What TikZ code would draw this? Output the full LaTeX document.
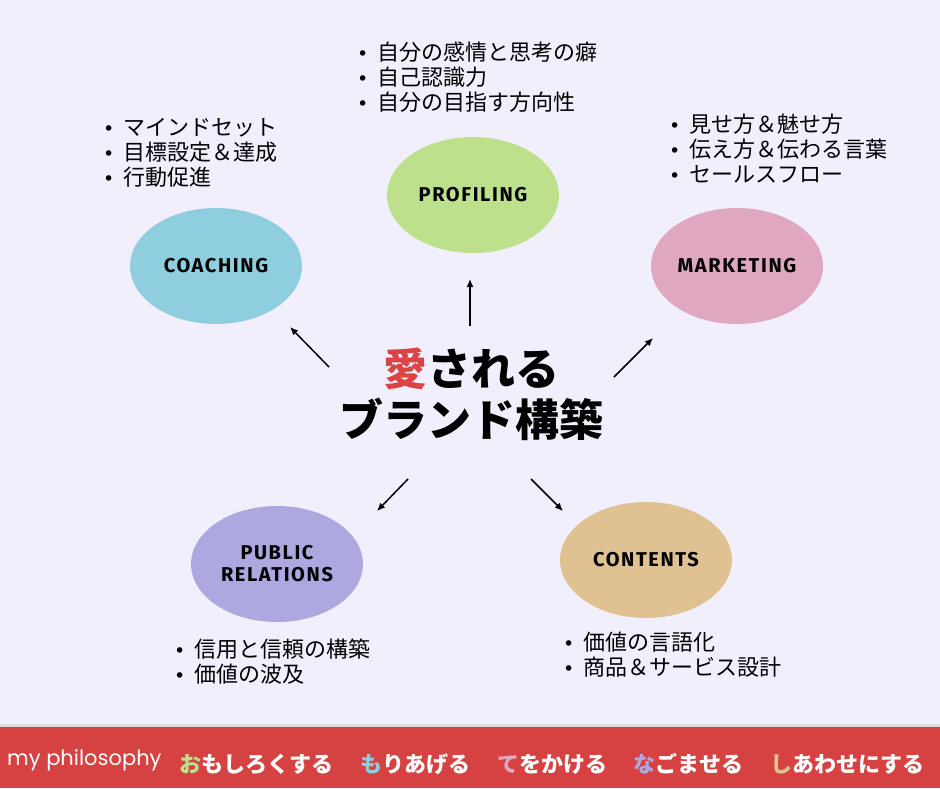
\documentclass[tikz,border=0pt]{standalone}
\usepackage{fontspec}
\usepackage{xcolor}
\usetikzlibrary{positioning,arrows.meta,shapes.geometric}

\newfontfamily\jp{Noto Sans CJK JP}
\newfontfamily\jpheavy{Noto Sans CJK JP}[UprightFont={* Black}]
\newfontfamily\hand{Fira Sans}[LetterSpace=8]
\newfontfamily\myph{Poppins}
\newfontfamily\dotfont{DejaVu Sans}

\definecolor{bgcol}{HTML}{F1EFFC}
\definecolor{barred}{HTML}{D64242}
\definecolor{coachcol}{HTML}{8FCEDF}
\definecolor{profcol}{HTML}{BDE08D}
\definecolor{mktcol}{HTML}{DFA7C0}
\definecolor{prcol}{HTML}{ADA8E0}
\definecolor{contcol}{HTML}{E0C192}
\definecolor{lovered}{HTML}{DB4444}

\newcommand\bul{\makebox[20pt][l]{\dotfont\fontsize{19}{19}\selectfont •}}

\begin{document}
\begin{tikzpicture}[
    x=1pt, y=-1pt,
    >={Latex[length=8pt,width=7pt]},
    bubble/.style={ellipse, minimum width=172pt, minimum height=116pt, inner sep=0pt,
                   align=center, font=\hand\bfseries\fontsize{20}{22}\selectfont},
    bullets/.style={anchor=base west, inner sep=0pt, align=left,
                    font=\jp\fontsize{22}{25}\selectfont},
    motto/.style={inner sep=0pt, text=white, font=\jp\bfseries\fontsize{22}{22}\selectfont},
    ray/.style={->, line width=1.5pt},
  ]
    \useasboundingbox (0,0) rectangle (940,788);
    \fill[bgcol] (0,0) rectangle (940,788);

    % 中央のタイトル
    \node[font=\jpheavy\fontsize{44}{51}\selectfont, align=center, inner sep=0pt] (title) at (471,394)
      {\textcolor{lovered}{愛}される\\ブランド構築};

    \node[bubble, fill=coachcol] (coach) at (216,266) {COACHING};
    \node[bubble, fill=profcol]  (prof)  at (473,195) {PROFILING};
    \node[bubble, fill=mktcol]   (mkt)   at (737,266) {MARKETING};
    \node[bubble, fill=prcol]    (pr)    at (277,564) {PUBLIC\\RELATIONS};
    \node[bubble, fill=contcol]  (cont)  at (646,560) {CONTENTS};

    % 箇条書き（アンカーは最終行のベースライン）
    \node[bullets] (coachlist) at (103,185) {\bul マインドセット\\\bul 目標設定＆達成\\\bul 行動促進};
    \node[bullets] (proflist)  at (357,110) {\bul 自分の感情と思考の癖\\\bul 自己認識力\\\bul 自分の目指す方向性};
    \node[bullets] (mktlist)   at (669,182) {\bul 見せ方＆魅せ方\\\bul 伝え方＆伝わる言葉\\\bul セールスフロー};
    \node[bullets] (prlist)    at (174,682) {\bul 信用と信頼の構築\\\bul 価値の波及};
    \node[bullets] (contlist)  at (563,675) {\bul 価値の言語化\\\bul 商品＆サービス設計};

    % 矢印
    \coordinate (upS) at (470,326);  \coordinate (upE) at (470,279);
    \coordinate (ulS) at (329,367);  \coordinate (ulE) at (290,327);
    \coordinate (urS) at (614,377);  \coordinate (urE) at (653,338);
    \coordinate (llS) at (408,479);  \coordinate (llE) at (377,511);
    \coordinate (lrS) at (531,479);  \coordinate (lrE) at (563,511);
    \draw[ray] (upS) -- (upE);
    \draw[ray] (ulS) -- (ulE);
    \draw[ray] (urS) -- (urE);
    \draw[ray] (llS) -- (llE);
    \draw[ray] (lrS) -- (lrE);

    % 下の帯
    \fill[black!14] (0,724) rectangle (940,727);
    \fill[barred] (0,727) rectangle (940,788);
    \node[anchor=west, inner sep=0pt, text=white, font=\myph\fontsize{21}{21}\selectfont] (myphil) at (7,760) {my philosophy};
    \node[motto, anchor=west] (m1) at (179,764) {\textcolor{profcol}{お}もしろくする};
    \node[motto, right=26.5pt of m1] (m2) {\textcolor{coachcol}{も}りあげる};
    \node[motto, right=26.5pt of m2] (m3) {\textcolor{mktcol}{て}をかける};
    \node[motto, right=26.5pt of m3] (m4) {\textcolor{prcol}{な}ごませる};
    \node[motto, right=26.5pt of m4] (m5) {\textcolor{contcol}{し}あわせにする};
  \end{tikzpicture}
\end{document}
